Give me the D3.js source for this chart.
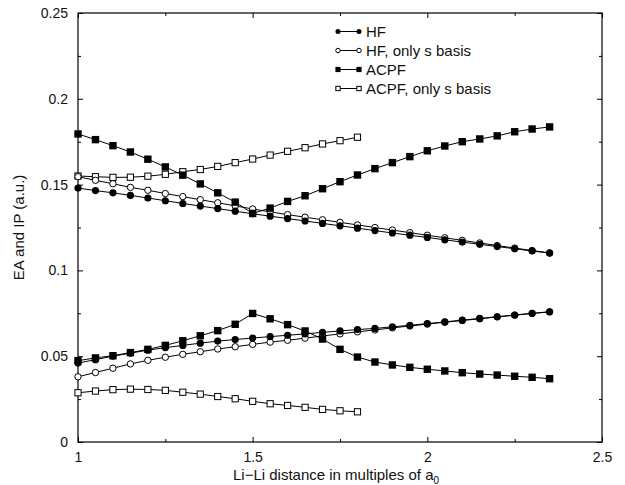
<!DOCTYPE html>
<html>
<head>
<meta charset="utf-8">
<script src="https://cdn.jsdelivr.net/npm/d3@7"></script>
<style>
  body { margin: 0; background: #fff; }
  svg { font-family: "Liberation Sans", Arial, sans-serif; }
</style>
</head>
<body>
<svg id="chart" width="625" height="485"></svg>
<script>
// x positions (Li-Li distance, units of a0)
const xFull = [1.00, 1.05, 1.10, 1.15, 1.20, 1.25, 1.30, 1.35, 1.40, 1.45, 1.50, 1.55, 1.60, 1.65,
  1.70, 1.75, 1.80, 1.85, 1.90, 1.95, 2.00, 2.05, 2.10, 2.15, 2.20, 2.25, 2.30, 2.35];
const xShort = xFull.slice(0, 17);

// upper branch
const hfUpper = [0.1480, 0.1465, 0.1452, 0.1437, 0.1422, 0.1406, 0.1390, 0.1375, 0.1360, 0.1345,
  0.1330, 0.1316, 0.1302, 0.1288, 0.1274, 0.1260, 0.1246, 0.1232, 0.1218, 0.1205, 0.1192, 0.1178,
  0.1165, 0.1152, 0.1139, 0.1126, 0.1113, 0.1101];
const hfsUpper = [0.1546, 0.1525, 0.1505, 0.1484, 0.1467, 0.1448, 0.1430, 0.1412, 0.1394, 0.1376,
  0.1358, 0.1341, 0.1325, 0.1310, 0.1295, 0.1280, 0.1265, 0.1250, 0.1235, 0.1220, 0.1205, 0.1190,
  0.1175, 0.1160, 0.1145, 0.1130, 0.1116, 0.1102];
const acpfUpper = [0.1795, 0.1762, 0.1727, 0.1690, 0.1648, 0.1603, 0.1555, 0.1504, 0.1452, 0.1398,
  0.1332, 0.1363, 0.1402, 0.1435, 0.1476, 0.1517, 0.1556, 0.1593, 0.1628, 0.1663, 0.1697, 0.1725,
  0.1750, 0.1766, 0.1784, 0.1808, 0.1824, 0.1836];
const acpfsUpper = [0.1550, 0.1546, 0.1542, 0.1543, 0.1549, 0.1560, 0.1575, 0.1588, 0.1606, 0.1628,
  0.1649, 0.1672, 0.1694, 0.1715, 0.1737, 0.1756, 0.1776];

// lower branch
const hfLower = [0.0460, 0.0480, 0.0500, 0.0518, 0.0535, 0.0550, 0.0563, 0.0576, 0.0588, 0.0597,
  0.0606, 0.0614, 0.0622, 0.0630, 0.0639, 0.0647, 0.0655, 0.0662, 0.0671, 0.0680, 0.0690, 0.0700,
  0.0710, 0.0720, 0.0730, 0.0740, 0.0750, 0.0759];
const hfsLower = [0.0380, 0.0405, 0.0430, 0.0455, 0.0476, 0.0494, 0.0511, 0.0526, 0.0542, 0.0555,
  0.0569, 0.0582, 0.0593, 0.0605, 0.0618, 0.0630, 0.0642, 0.0653, 0.0665, 0.0676, 0.0687, 0.0698,
  0.0708, 0.0718, 0.0729, 0.0739, 0.0749, 0.0758];
const acpfLower = [0.0474, 0.0490, 0.0503, 0.0521, 0.0540, 0.0563, 0.0590, 0.0619, 0.0649, 0.0686,
  0.0749, 0.0718, 0.0684, 0.0647, 0.0600, 0.0540, 0.0495, 0.0466, 0.0449, 0.0435, 0.0424, 0.0414,
  0.0404, 0.0396, 0.0390, 0.0383, 0.0377, 0.0369];
const acpfsLower = [0.0287, 0.0297, 0.0305, 0.0308, 0.0306, 0.0301, 0.0290, 0.0279, 0.0265, 0.0252,
  0.0237, 0.0223, 0.0213, 0.0202, 0.0190, 0.0182, 0.0176];

const legendLabels = ['HF', 'HF, only s basis', 'ACPF', 'ACPF, only s basis'];
const markerKinds = ['dot', 'circle', 'square', 'box'];

const xTicks = [1, 1.5, 2, 2.5];
const xMinor = [1.25, 1.75, 2.25];
const yTicks = [0, 0.05, 0.1, 0.15, 0.2, 0.25];
const yMinor = [0.025, 0.075, 0.125, 0.175, 0.225];

// series, drawn in this order
const series = [
  { kind: 'box', x: xShort, up: acpfsUpper, low: acpfsLower },
  { kind: 'circle', x: xFull, up: hfsUpper, low: hfsLower },
  { kind: 'dot', x: xFull, up: hfUpper, low: hfLower },
  { kind: 'square', x: xFull, up: acpfUpper, low: acpfLower },
];

const margin = { top: 13, right: 23, bottom: 43, left: 78 };
const width = 625 - margin.left - margin.right;
const height = 485 - margin.top - margin.bottom;

const svg = d3.select('#chart');
const g = svg.append('g').attr('transform', `translate(${margin.left},${margin.top})`);

const x = d3.scaleLinear().domain([1, 2.5]).range([0, width]);
const y = d3.scaleLinear().domain([0, 0.25]).range([height, 0]);

const fmt = d => d === 0 ? '0' : d3.format('')(+d.toFixed(2));

// axes: ticks pointing inward on all four sides
function styleAxis(sel) {
  sel.select('.domain').remove();
  sel.selectAll('line').attr('stroke', '#000').attr('stroke-width', 1);
  sel.selectAll('text').attr('font-size', 14).attr('fill', '#111');
}

g.append('g').attr('transform', `translate(0,${height})`)
  .call(d3.axisBottom(x).tickValues(xTicks).tickSize(-5).tickPadding(10).tickFormat(fmt))
  .call(styleAxis);
g.append('g').attr('transform', `translate(0,${height})`)
  .call(d3.axisBottom(x).tickValues(xMinor).tickSize(-3).tickFormat(''))
  .call(styleAxis);
g.append('g')
  .call(d3.axisTop(x).tickValues(xTicks).tickSize(-5).tickFormat(''))
  .call(styleAxis);
g.append('g')
  .call(d3.axisTop(x).tickValues(xMinor).tickSize(-3).tickFormat(''))
  .call(styleAxis);

g.append('g')
  .call(d3.axisLeft(y).tickValues(yTicks).tickSize(-5).tickPadding(10).tickFormat(fmt))
  .call(styleAxis);
g.append('g')
  .call(d3.axisLeft(y).tickValues(yMinor).tickSize(-3).tickFormat(''))
  .call(styleAxis);
g.append('g').attr('transform', `translate(${width},0)`)
  .call(d3.axisRight(y).tickValues(yTicks).tickSize(-5).tickFormat(''))
  .call(styleAxis);
g.append('g').attr('transform', `translate(${width},0)`)
  .call(d3.axisRight(y).tickValues(yMinor).tickSize(-3).tickFormat(''))
  .call(styleAxis);

g.append('rect')
  .attr('width', width).attr('height', height)
  .attr('fill', 'none').attr('stroke', '#000').attr('stroke-width', 1.2);

// markers
function drawMarker(sel, kind, s) {
  // s = scale factor (legend uses smaller marks)
  if (kind === 'dot') {
    sel.append('circle').attr('r', 3.6 * s).attr('fill', '#000');
  } else if (kind === 'circle') {
    sel.append('circle').attr('r', 3.2 * s).attr('fill', '#fff').attr('stroke', '#000').attr('stroke-width', 1);
  } else if (kind === 'square') {
    const a = 7.4 * s;
    sel.append('rect').attr('x', -a / 2).attr('y', -a / 2).attr('width', a).attr('height', a).attr('fill', '#000');
  } else {
    const a = 6.2 * s;
    sel.append('rect').attr('x', -a / 2).attr('y', -a / 2).attr('width', a).attr('height', a)
      .attr('fill', '#fff').attr('stroke', '#000').attr('stroke-width', 1);
  }
}

const line = d3.line().x(d => x(d[0])).y(d => y(d[1]));

series.forEach(s => {
  [s.up, s.low].forEach(vals => {
    const pts = s.x.map((xv, i) => [xv, vals[i]]);
    g.append('path').datum(pts)
      .attr('d', line).attr('fill', 'none').attr('stroke', '#000').attr('stroke-width', 1);
    g.append('g').selectAll('g').data(pts).join('g')
      .attr('transform', d => `translate(${x(d[0])},${y(d[1])})`)
      .each(function () { drawMarker(d3.select(this), s.kind, 1); });
  });
});

// legend
const legend = g.append('g').attr('transform', `translate(${338 - margin.left},${31.5 - margin.top})`);
legendLabels.forEach((lab, i) => {
  const row = legend.append('g').attr('transform', `translate(0,${i * 19})`);
  row.append('line').attr('x1', 0).attr('x2', 21).attr('stroke', '#000').attr('stroke-width', 1);
  [0, 21].forEach(px => {
    drawMarker(row.append('g').attr('transform', `translate(${px},0)`), markerKinds[i], 0.7);
  });
  row.append('text').attr('x', 28).attr('dy', '0.36em')
    .attr('font-size', 15).attr('fill', '#111').text(lab);
});

// axis titles
svg.append('text')
  .attr('transform', `translate(24,${margin.top + height / 2}) rotate(-90)`)
  .attr('text-anchor', 'middle').attr('font-size', 15).attr('fill', '#111')
  .text('EA and IP (a.u.)');

const xt = svg.append('text')
  .attr('x', margin.left + width / 2 - 4).attr('y', 480)
  .attr('text-anchor', 'middle').attr('font-size', 15).attr('fill', '#111');
xt.append('tspan').text('Li\u2212Li distance in multiples of a');
xt.append('tspan').attr('font-size', 10).attr('dy', 4).text('0');
</script>
</body>
</html>
